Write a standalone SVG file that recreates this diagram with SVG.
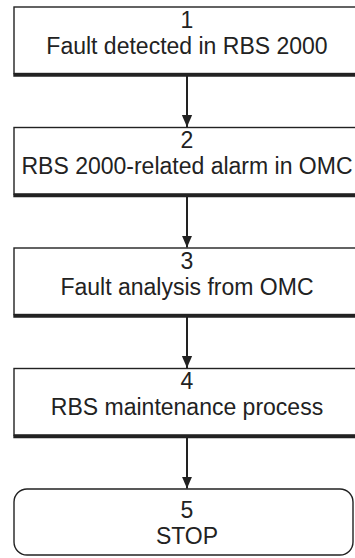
<svg xmlns="http://www.w3.org/2000/svg" width="355" height="558" viewBox="0 0 355 558">
<style>
.box{fill:#fff;stroke:#222;stroke-width:1.4}
.shadow{stroke:#222;stroke-width:3.6;fill:none}
.num,.lbl{font-family:"Liberation Sans",Arial,sans-serif;font-size:23px;fill:#222;text-anchor:middle}
.conn{stroke:#222;stroke-width:2;fill:none}
</style>
<defs>
<marker id="ah" markerWidth="12" markerHeight="15" refX="14" refY="6" orient="auto" markerUnits="userSpaceOnUse" viewBox="0 0 14 12">
<path d="M0,0 L14,6 L0,12 Z" fill="#222"/>
</marker>
</defs>
<rect width="355" height="558" fill="#fff"/>
<g id="connectors">
<line class="conn" x1="187" y1="76" x2="187" y2="127" marker-end="url(#ah)"/>
<line class="conn" x1="187" y1="197" x2="187" y2="247.5" marker-end="url(#ah)"/>
<line class="conn" x1="187" y1="317" x2="187" y2="368" marker-end="url(#ah)"/>
<line class="conn" x1="187" y1="438" x2="187" y2="488.5" marker-end="url(#ah)"/>
</g>
<g id="node1">
<rect class="box" x="14" y="7" width="346" height="66.5"/>
<line class="shadow" x1="13.3" y1="75" x2="360" y2="75"/>
<text class="num" x="187" y="27.5">1</text>
<text class="lbl" x="187" y="53.5">Fault detected in RBS 2000</text>
</g>
<g id="node2">
<rect class="box" x="14" y="127.5" width="346" height="66.5"/>
<line class="shadow" x1="13.3" y1="195.5" x2="360" y2="195.5"/>
<text class="num" x="187" y="148">2</text>
<text class="lbl" x="187" y="174">RBS 2000-related alarm in OMC</text>
</g>
<g id="node3">
<rect class="box" x="14" y="248" width="346" height="66.5"/>
<line class="shadow" x1="13.3" y1="316" x2="360" y2="316"/>
<text class="num" x="187" y="268.5">3</text>
<text class="lbl" x="187" y="294.5">Fault analysis from OMC</text>
</g>
<g id="node4">
<rect class="box" x="14" y="368.5" width="346" height="66.5"/>
<line class="shadow" x1="13.3" y1="436.5" x2="360" y2="436.5"/>
<text class="num" x="187" y="389">4</text>
<text class="lbl" x="187" y="415">RBS maintenance process</text>
</g>
<g id="node5">
<rect class="box" x="14" y="489" width="339" height="66" rx="13" ry="13"/>
<text class="num" x="187" y="518">5</text>
<text class="lbl" x="187" y="544">STOP</text>
</g>
</svg>
